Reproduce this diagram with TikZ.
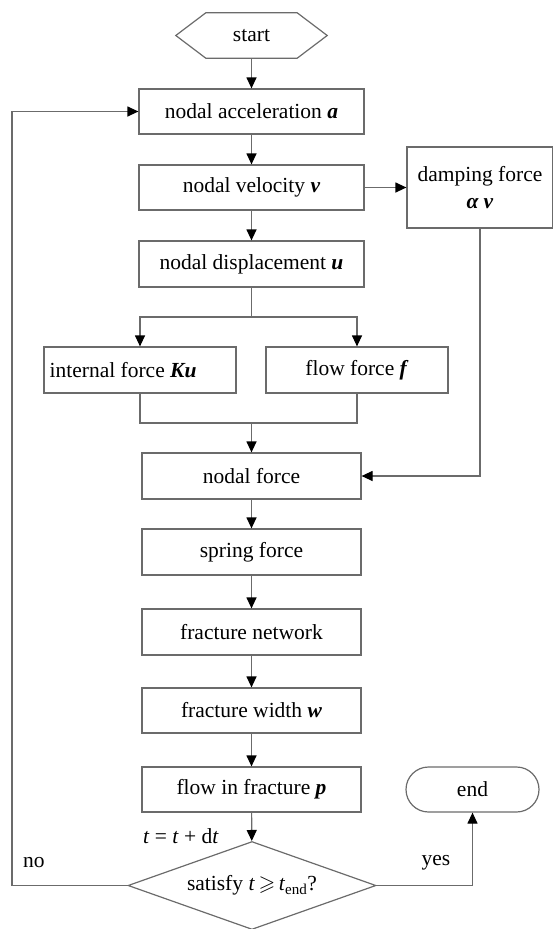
\documentclass[tikz,border=0pt]{standalone}
\usepackage{fontspec}
\setmainfont{Liberation Serif}[Ligatures=NoCommon]
\usepackage{amssymb}
\usetikzlibrary{arrows.meta,shapes.geometric,shapes.misc}
\definecolor{lg}{gray}{0.42}
\begin{document}
\begin{tikzpicture}[x=1pt,y=-1pt,
  every node/.style={font=\fontsize{21.5}{27}\selectfont},
  line/.style={draw=lg, line width=1.2pt},
  arr/.style={line, -{Triangle[length=11pt,width=10pt,color=black]}},
  box/.style={draw=lg, line width=1.2pt, minimum height=45pt, inner sep=0pt},
  mainbox/.style={box, minimum width=225pt},
  lowbox/.style={box, minimum width=219pt},
  lbl/.style={inner sep=0pt}]
\useasboundingbox (0,0) rectangle (553,929);

\node[minimum width=151pt, minimum height=45pt, inner sep=0pt] (start) at (251.5,35.5) {start};
\draw[line] (start.west) -- ([xshift=30pt]start.north west) -- ([xshift=-30pt]start.north east)
  -- (start.east) -- ([xshift=-30pt]start.south east) -- ([xshift=30pt]start.south west) -- cycle;

\node[mainbox] (acc) at (251.5,111.5) {nodal acceleration \textbf{\textit{a}}};
\node[mainbox] (vel) at (251.5,187.5) {nodal velocity \textbf{\textit{v}}};
\node[box, minimum width=146pt, minimum height=81pt, align=center] (damp) at (480,187.5) {damping force\\\textbf{\textit{α v}}};
\node[mainbox, minimum height=46pt] (disp) at (251.5,264) {nodal displacement \textbf{\textit{u}}};
\node[box, minimum width=192pt, minimum height=46pt] (int) at (140,370) {};
\node[lbl, anchor=west] (intt) at ([xshift=6pt]int.west) {internal force \textbf{\textit{Ku}}};
\node[box, minimum width=182pt, minimum height=46pt] (flow) at (357,370) {flow force \textbf{\textit{f}}};
\node[lowbox, minimum height=46pt] (nf) at (251.5,476) {nodal force};
\node[lowbox, minimum height=46pt] (spring) at (251.5,552) {spring force};
\node[lowbox, minimum height=46pt] (net) at (251.5,632) {fracture network};
\node[lowbox] (wid) at (251.5,710.5) {fracture width \textbf{\textit{w}}};
\node[lowbox] (fin) at (251.5,789.5) {flow in fracture \textbf{\textit{p}}};
\node[draw=lg, line width=1.2pt, diamond, aspect=2.8, minimum width=248pt, minimum height=88pt, inner sep=0pt] (dia) at (252,885.5) {satisfy \textit{t}\,$\geqslant$\,\textit{t}\textsubscript{end}?};
\node[draw=lg, line width=1.2pt, rounded rectangle, minimum width=133pt, minimum height=45pt, inner sep=0pt] (endn) at (472.5,789.5) {end};

\node[lbl] (tl) at (181,836) {\textit{t} = \textit{t} + d\textit{t}};
\node[lbl] (no) at (34,863) {no};
\node[lbl] (yes) at (436,863) {yes};

\coordinate (lp) at (12,885.5);
\coordinate (sp) at (251.5,317);
\coordinate (mg) at (251.5,423);

\draw[arr] (start) -- (acc);
\draw[arr] (acc) -- (vel);
\draw[arr] (vel) -- (disp);
\draw[arr] (vel.east) -- (damp.west);
\draw[line] (disp.south) -- (sp);
\draw[arr] (sp) -| (int.north);
\draw[arr] (sp) -| (flow.north);
\draw[line] (int.south) |- (mg) -| (flow.south);
\draw[arr] (mg) -- (nf.north);
\draw[arr] (damp.south) |- (nf.east);
\draw[arr] (nf) -- (spring);
\draw[arr] (spring) -- (net);
\draw[arr] (net) -- (wid);
\draw[arr] (wid) -- (fin);
\draw[arr] (fin) -- (dia);
\draw[arr] (dia.west) -- (lp) |- (acc.west);
\draw[arr] (dia.east) -| (endn.south);
\end{tikzpicture}
\end{document}
